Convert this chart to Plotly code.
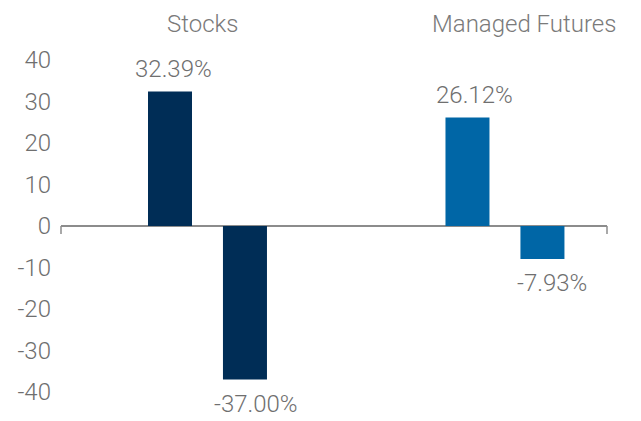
import plotly.graph_objects as go

categories = ["Stocks", "Managed Futures"]
series_names = ["2013", "2008"]
values_2013 = [32.39, 26.12]
values_2008 = [-37.00, -7.93]
y_ticks = [40, 30, 20, 10, 0, -10, -20, -30, -40]

cat_colors = ["#002D56", "#0066A6"]
text_color = "#6f6f6f"
font_family = "Roboto"
fsize = 24

fig = go.Figure()
for name, vals in zip(series_names, [values_2013, values_2008]):
    fig.add_trace(go.Bar(
        name=name, x=categories, y=vals,
        marker=dict(color=cat_colors, line=dict(width=0)),
        showlegend=False, hoverinfo="x+y",
    ))

# value labels (offsets in pixels relative to category centre)
label_style = [
    # (series index, dx per category, dy)
    (0, [-34, -30], 8),
    (1, [49, 47], -9),
]
for si, dxs, dy in label_style:
    vals = [values_2013, values_2008][si]
    for ci, v in enumerate(vals):
        fig.add_annotation(
            x=categories[ci], y=v, xref="x", yref="y",
            text=f"{v:.2f}%", showarrow=False,
            xshift=dxs[ci], yshift=dy, borderpad=0,
            yanchor="bottom" if v >= 0 else "top",
            font=dict(family=font_family, size=fsize, color=text_color, weight=300),
        )

# category titles at top
title_shift = [-5, 19]
for ci, c in enumerate(categories):
    fig.add_annotation(
        x=c, y=1, xref="x", yref="paper", yanchor="bottom",
        yshift=20, xshift=title_shift[ci],
        text=c, showarrow=False,
        font=dict(family=font_family, size=fsize, color="#7a7a7a", weight=300),
    )

# end ticks on zero line
for xp in [0, 1]:
    fig.add_shape(
        type="line", xref="paper", yref="y",
        x0=xp, x1=xp, ysizemode="pixel", yanchor=0, y0=0, y1=-8,
        line=dict(color="#8c8c8c", width=1.5),
    )

fig.update_layout(
    width=641, height=421,
    margin=dict(l=61, r=34, t=60, b=29),
    paper_bgcolor="white", plot_bgcolor="white",
    barmode="group", bargap=0.496, bargroupgap=0.413,
    font=dict(family=font_family, size=fsize, color=text_color, weight=300),
    xaxis=dict(
        type="category", range=[-0.4924, 1.343],
        showticklabels=False, showgrid=False, showline=False, zeroline=False,
        fixedrange=True,
    ),
    yaxis=dict(
        range=[-40, 40], tickvals=y_ticks, ticktext=[str(t) for t in y_ticks],
        showgrid=False, showline=False,
        zeroline=True, zerolinecolor="#8c8c8c", zerolinewidth=1.5,
        ticks="", ticklabelstandoff=9,
        tickfont=dict(family=font_family, size=fsize, color=text_color, weight=300),
        fixedrange=True,
    ),
)

fig.write_html(
    "out.html",
    config={"displayModeBar": False},
    post_script="document.body.style.margin='0';",
)
